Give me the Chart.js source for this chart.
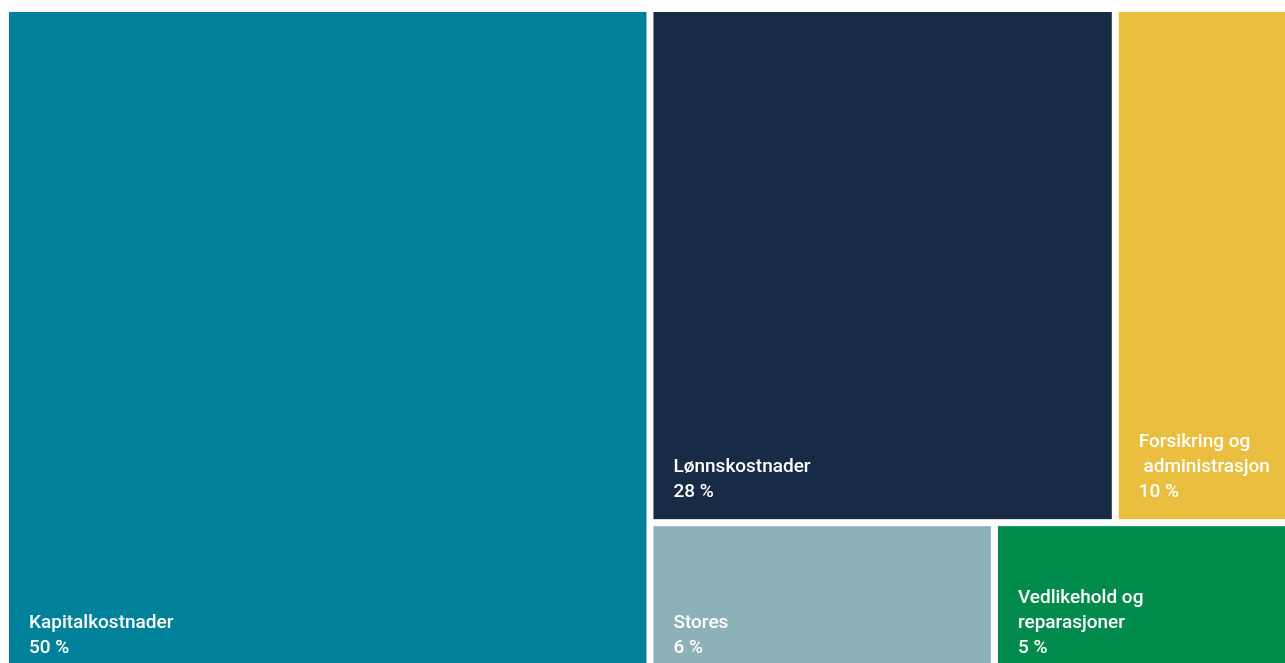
<!DOCTYPE html>
<html lang="no">
<head>
<meta charset="utf-8">
<title>Kostnadsfordeling</title>
<script src="https://cdn.jsdelivr.net/npm/chart.js@4.4.0/dist/chart.umd.min.js"></script>
<style>
  html, body { margin: 0; padding: 0; background: #fff; overflow: hidden; }
  canvas { display: block; }
</style>
</head>
<body>
<canvas id="costChart" width="1285" height="675"></canvas>
<script>
// Cost categories and their share in percent
var categories = ['Kapitalkostnader', 'Lønnskostnader', 'Forsikring og\n administrasjon', 'Stores', 'Vedlikehold og\nreparasjoner'];
var shares = [50, 28, 10, 6, 5];
var cellColors = ['#00819a', '#172b47', '#eabf40', '#8db1b9', '#008b4c'];

// Strip layout: the largest item takes a full-height column,
// the rest are stacked in rows of two to the right of it.
function layoutCells(values) {
  var total = values.reduce(function (a, b) { return a + b; }, 0);
  var cells = [];
  var colW = values[0] / total;
  cells[0] = { x0: 0, x1: colW, y0: 0, y1: 1 };

  var rest = total - values[0];
  var y = 0;
  for (var i = 1; i < values.length; i += 2) {
    var row = values.slice(i, i + 2);
    var rowSum = row.reduce(function (a, b) { return a + b; }, 0);
    var h = rowSum / rest;
    var x = colW;
    for (var j = 0; j < row.length; j++) {
      var w = row[j] / rowSum * (1 - colW);
      cells[i + j] = { x0: x, x1: x + w, y0: y, y1: y + h };
      x += w;
    }
    y += h;
  }
  return cells;
}

var cells = layoutCells(shares);
var GAP = 7;

// Paints the cells and their labels on the chart's own x/y scales
var treemapCells = {
  id: 'treemapCells',
  beforeDatasetsDraw: function (chart) {
    var ctx = chart.ctx;
    var xs = chart.scales.x;
    var ys = chart.scales.y;
    ctx.save();
    cells.forEach(function (c, i) {
      var left = xs.getPixelForValue(c.x0);
      var right = xs.getPixelForValue(c.x1) - (c.x1 < 0.9999 ? GAP : 0);
      var top = ys.getPixelForValue(c.y0);
      var bottom = ys.getPixelForValue(c.y1) - (c.y1 < 0.9999 ? GAP : 0);
      ctx.fillStyle = cellColors[i];
      ctx.fillRect(left, top, right - left, bottom - top);

      var lines = categories[i].split('\n').concat([shares[i] + ' %']);
      ctx.fillStyle = '#ffffff';
      ctx.font = '500 19px Roboto, "Noto Sans", sans-serif';
      ctx.textAlign = 'left';
      ctx.textBaseline = 'alphabetic';
      var lineH = 25;
      var base = bottom - 22 - (lines.length - 1) * lineH;
      lines.forEach(function (t, k) {
        ctx.fillText(t, left + 20, base + k * lineH);
      });
    });
    ctx.restore();
  }
};

var costChart = new Chart(document.getElementById('costChart').getContext('2d'), {
  type: 'scatter',
  data: {
    labels: categories,
    datasets: [{ data: [] }]
  },
  options: {
    responsive: false,
    animation: false,
    layout: { padding: { left: 9, top: 12, right: 0, bottom: 0 } },
    scales: {
      x: { type: 'linear', min: 0, max: 1, display: false },
      y: { type: 'linear', min: 0, max: 1, reverse: true, display: false }
    },
    plugins: {
      legend: { display: false },
      tooltip: { enabled: false }
    }
  },
  plugins: [treemapCells]
});
</script>
</body>
</html>
